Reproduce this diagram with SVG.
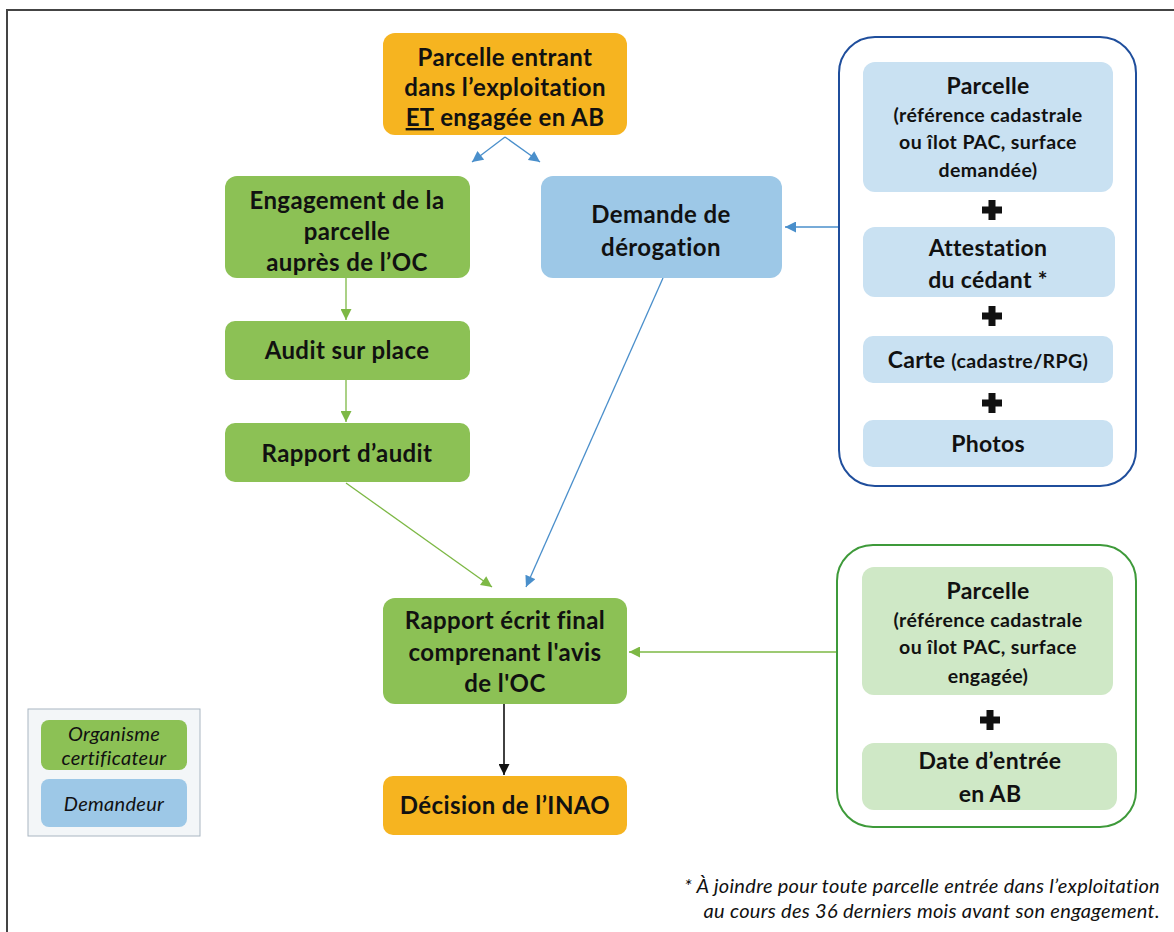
<svg xmlns="http://www.w3.org/2000/svg" width="1174" height="932" viewBox="0 0 1174 932">
<style>
.t{font-family:Lato,"Liberation Sans",sans-serif;font-weight:bold;fill:#111;text-anchor:middle;font-size:24px;letter-spacing:0.4px}
.h{font-size:23px;letter-spacing:0.3px}
.s{font-size:19.5px;letter-spacing:0.4px}
.i{font-family:Lato,"Liberation Sans",sans-serif;font-style:italic;fill:#111;text-anchor:middle;font-size:20px;letter-spacing:0.3px}
.orange{fill:#F6B420}
.green{fill:#8CC155}
.blue{fill:#9DC8E7}
.lblue{fill:#C9E1F2}
.lgreen{fill:#CFE8C6}
.cb{stroke:#4A8FCB;stroke-width:1.3;fill:none}
.cg{stroke:#7DB845;stroke-width:1.3;fill:none}
.ck{stroke:#111;stroke-width:1.6;fill:none}
.plus{fill:#111}
</style>
<defs>
<marker id="ab" viewBox="0 0 10 10" refX="10" refY="5" markerWidth="12" markerHeight="11" markerUnits="userSpaceOnUse" orient="auto"><path d="M0,0 L10,5 L0,10 z" fill="#4A8FCB"/></marker>
<marker id="ag" viewBox="0 0 10 10" refX="10" refY="5" markerWidth="12" markerHeight="11" markerUnits="userSpaceOnUse" orient="auto"><path d="M0,0 L10,5 L0,10 z" fill="#7DB845"/></marker>
<marker id="ak" viewBox="0 0 10 10" refX="10" refY="5" markerWidth="12" markerHeight="11" markerUnits="userSpaceOnUse" orient="auto"><path d="M0,0 L10,5 L0,10 z" fill="#111"/></marker>
<path id="plusShape" d="M-3.5,-10 H3.5 V-3.5 H10 V3.5 H3.5 V10 H-3.5 V3.5 H-10 V-3.5 H-3.5 Z"/>
</defs>
<rect x="0" y="0" width="1174" height="932" fill="#fff"/>
<path d="M7,932 V10 H1174" fill="none" stroke="#444" stroke-width="2"/>

<g id="connectors">
<line class="cb" x1="505" y1="137" x2="472" y2="162" marker-end="url(#ab)"/>
<line class="cb" x1="505" y1="137" x2="540" y2="162" marker-end="url(#ab)"/>
<line class="cg" x1="346" y1="278" x2="346" y2="320" marker-end="url(#ag)"/>
<line class="cg" x1="346" y1="380" x2="346" y2="422" marker-end="url(#ag)"/>
<line class="cg" x1="346" y1="483" x2="492" y2="587" marker-end="url(#ag)"/>
<line class="cb" x1="663" y1="278" x2="526" y2="587" marker-end="url(#ab)"/>
<line class="cb" x1="839" y1="227" x2="785" y2="227" marker-end="url(#ab)"/>
<line class="cg" x1="837" y1="652" x2="629" y2="652" marker-end="url(#ag)"/>
<line class="ck" x1="504" y1="704" x2="504" y2="775" marker-end="url(#ak)"/>
</g>

<g id="n-parcelle-entrant">
<rect class="orange" x="383" y="33" width="244" height="102" rx="12"/>
<text class="t" x="505" y="66">Parcelle entrant</text>
<text class="t" x="505" y="96">dans l’exploitation</text>
<text class="t" x="505" y="126"><tspan text-decoration="underline">ET</tspan> engagée en AB</text>
</g>

<g id="n-engagement">
<rect class="green" x="225" y="176" width="245" height="102" rx="12"/>
<text class="t" x="347" y="209">Engagement de la</text>
<text class="t" x="347" y="240">parcelle</text>
<text class="t" x="347" y="271">auprès de l’OC</text>
</g>

<g id="n-demande">
<rect class="blue" x="541" y="176" width="241" height="102" rx="12"/>
<text class="t" x="661" y="223">Demande de</text>
<text class="t" x="661" y="256">dérogation</text>
</g>

<g id="n-audit">
<rect class="green" x="225" y="321" width="245" height="59" rx="10"/>
<text class="t" x="347" y="359">Audit sur place</text>
</g>

<g id="n-rapport-audit">
<rect class="green" x="225" y="423" width="245" height="59" rx="10"/>
<text class="t" x="347" y="462">Rapport d’audit</text>
</g>

<g id="n-rapport-final">
<rect class="green" x="383" y="598" width="244" height="106" rx="12"/>
<text class="t" x="505" y="629">Rapport écrit final</text>
<text class="t" x="505" y="661">comprenant l'avis</text>
<text class="t" x="505" y="692">de l'OC</text>
</g>

<g id="n-decision">
<rect class="orange" x="383" y="776" width="244" height="59" rx="10"/>
<text class="t" x="505" y="814">Décision de l’INAO</text>
</g>

<g id="n-dossier-derogation">
<rect x="839" y="37" width="297" height="449" rx="36" fill="#fff" stroke="#1F4E9C" stroke-width="2"/>
<rect class="lblue" x="863" y="62" width="250" height="130" rx="12"/>
<text class="t h" x="988" y="94">Parcelle</text>
<text class="t s" x="988" y="122">(référence cadastrale</text>
<text class="t s" x="988" y="149">ou îlot PAC, surface</text>
<text class="t s" x="988" y="177">demandée)</text>
<use href="#plusShape" class="plus" x="992" y="210"/>
<rect class="lblue" x="863" y="227" width="252" height="70" rx="12"/>
<text class="t h" x="988" y="256">Attestation</text>
<text class="t h" x="988" y="288">du cédant *</text>
<use href="#plusShape" class="plus" x="992" y="316"/>
<rect class="lblue" x="863" y="336" width="250" height="47" rx="10"/>
<text class="t" x="988" y="368"><tspan class="h">Carte </tspan><tspan class="s">(cadastre/RPG)</tspan></text>
<use href="#plusShape" class="plus" x="992" y="403"/>
<rect class="lblue" x="863" y="420" width="250" height="47" rx="10"/>
<text class="t h" x="988" y="452">Photos</text>
</g>

<g id="n-dossier-oc">
<rect x="837" y="545" width="299" height="282" rx="36" fill="#fff" stroke="#3E9A3A" stroke-width="2"/>
<rect class="lgreen" x="862" y="567" width="251" height="128" rx="12"/>
<text class="t h" x="988" y="599">Parcelle</text>
<text class="t s" x="988" y="627">(référence cadastrale</text>
<text class="t s" x="988" y="654">ou îlot PAC, surface</text>
<text class="t s" x="988" y="683">engagée)</text>
<use href="#plusShape" class="plus" x="990" y="720"/>
<rect class="lgreen" x="862" y="743" width="255" height="67" rx="12"/>
<text class="t h" x="990" y="769">Date d’entrée</text>
<text class="t h" x="990" y="802">en AB</text>
</g>

<g id="legend">
<rect x="28" y="709" width="172" height="127" fill="#F3F6F8" stroke="#A9B6C2" stroke-width="1"/>
<rect class="green" x="41" y="720" width="146" height="50" rx="8"/>
<text class="i" x="114" y="741">Organisme</text>
<text class="i" x="114" y="765">certificateur</text>
<rect class="blue" x="41" y="779" width="146" height="48" rx="8"/>
<text class="i" x="114" y="811">Demandeur</text>
</g>

<g id="footnote">
<text class="i" style="text-anchor:end" x="1160" y="893">* À joindre pour toute parcelle entrée dans l’exploitation</text>
<text class="i" style="text-anchor:end" x="1160" y="918">au cours des 36 derniers mois avant son engagement.</text>
</g>
</svg>
